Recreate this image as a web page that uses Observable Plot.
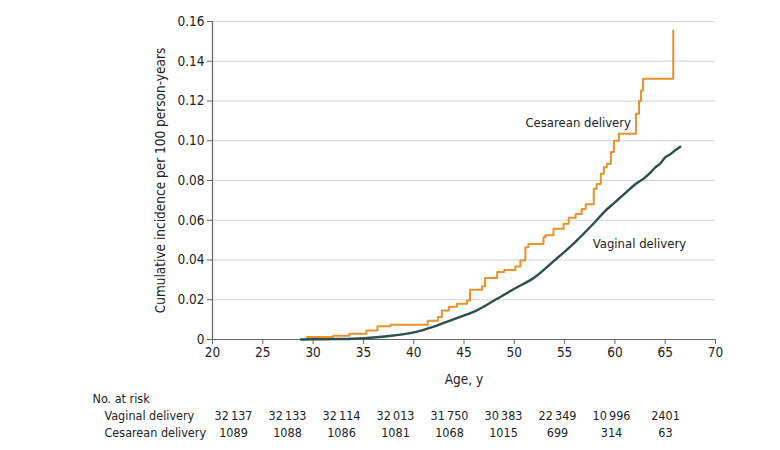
<!DOCTYPE html>
<html>
<head>
<meta charset="utf-8">
<script src="https://cdn.jsdelivr.net/npm/d3@7"></script>
<script src="https://cdn.jsdelivr.net/npm/@observablehq/plot@0.6"></script>
<style>
  html, body { margin: 0; padding: 0; background: #fff; }
  #chart svg { display: block; }
</style>
</head>
<body>
<div id="chart"></div>
<script>
const FONT = "'DejaVu Sans Condensed', 'Liberation Sans', sans-serif";

// Cumulative incidence, cesarean delivery (step function)
const cesAge = [29.4, 32.0, 33.6, 35.3, 36.4, 37.7, 41.4, 42.4, 42.8, 43.5, 44.3, 45.3, 45.6, 46.8, 47.1, 48.3, 49.0, 50.1, 50.6, 51.1, 51.4, 52.9, 53.1, 53.9, 54.9, 55.4, 56.1, 56.7, 57.1, 57.9, 58.2, 58.6, 58.9, 59.2, 59.6, 59.9, 60.4, 62.1, 62.4, 62.6, 62.8, 65.8];
const cesVal = [0.0012, 0.0019, 0.0029, 0.0045, 0.0067, 0.0074, 0.0094, 0.0113, 0.0146, 0.0165, 0.0180, 0.0196, 0.0250, 0.0268, 0.0310, 0.0339, 0.0350, 0.0367, 0.0397, 0.0464, 0.0481, 0.0515, 0.0525, 0.0557, 0.0582, 0.0612, 0.0632, 0.0657, 0.0680, 0.0758, 0.0783, 0.0834, 0.0867, 0.0884, 0.0943, 0.1000, 0.1035, 0.1136, 0.1200, 0.1253, 0.1312, 0.1555];

// Cumulative incidence, vaginal delivery
const vagAge = [28.8, 30, 32, 34, 36, 38, 40, 42, 44, 46, 48, 50, 52, 54, 56, 58, 59, 60, 61, 62, 63, 63.5, 64, 64.5, 65, 65.5, 66, 66.5];
const vagVal = [0, 0.0001, 0.0002, 0.0004, 0.0010, 0.0020, 0.0036, 0.0065, 0.0103, 0.0140, 0.0196, 0.0255, 0.0312, 0.0398, 0.0488, 0.0590, 0.0645, 0.0690, 0.0735, 0.0780, 0.0815, 0.0838, 0.0865, 0.0885, 0.0916, 0.0932, 0.0952, 0.0970];

const xTicks = [20, 25, 30, 35, 40, 45, 50, 55, 60, 65, 70];
const yTicks = [0, 0.02, 0.04, 0.06, 0.08, 0.10, 0.12, 0.14, 0.16];

const seriesNames = ["Vaginal delivery", "Cesarean delivery"];
const seriesColors = ["#2b4f4c", "#e8922e"];

// Curve labels
const labelText = ["Cesarean delivery", "Vaginal delivery"];
const labelAge = [61.6, 57.8];
const labelVal = [0.109, 0.048];
const labelAnchor = ["end", "start"];

// Number at risk
const riskCols = [30, 35, 40, 45, 50, 55, 60, 65, 70];
const riskVaginal = ["32\u2009137", "32\u2009133", "32\u2009114", "32\u2009013", "31\u2009750", "30\u2009383", "22\u2009349", "10\u2009996", "2401"];
const riskCesarean = ["1089", "1088", "1086", "1081", "1068", "1015", "699", "314", "63"];

const ces = cesAge.map((a, i) => ({age: a, v: cesVal[i]}));
const vag = vagAge.map((a, i) => ({age: a, v: vagVal[i]}));
const labels = labelText.map((t, i) => ({t, age: labelAge[i], v: labelVal[i], anchor: labelAnchor[i]}));

const main = Plot.plot({
  width: 780,
  height: 390,
  marginTop: 21,
  marginLeft: 212,
  marginRight: 65,
  marginBottom: 51,
  style: {fontFamily: FONT, fontSize: "13px", color: "#222", background: "#fff"},
  x: {domain: [20, 70]},
  y: {domain: [0, 0.16]},
  marks: [
    Plot.gridY(yTicks.filter(d => d > 0), {stroke: "#d4d4d4", strokeOpacity: 1, strokeWidth: 1.2}),
    Plot.axisY(yTicks, {
      tickSize: 5, tickPadding: 3, stroke: "#666",
      tickFormat: d => d === 0 ? "0" : d.toFixed(2),
      label: "Cumulative incidence per 100 person-years",
      labelAnchor: "center", labelArrow: "none", labelOffset: 57,
      fontSize: 13.5
    }),
    Plot.axisX(xTicks, {
      tickSize: 5, tickPadding: 3, stroke: "#666",
      label: "Age, y", labelAnchor: "center", labelArrow: "none", labelOffset: 44,
      fontSize: 13.5
    }),
    Plot.ruleY([0], {stroke: "#666", strokeWidth: 1.2}),
    Plot.ruleX([20], {stroke: "#666", strokeWidth: 1.2}),
    Plot.line(vag, {x: "age", y: "v", curve: "monotone-x", stroke: seriesColors[0], strokeWidth: 2.4}),
    Plot.line(ces, {x: "age", y: "v", curve: "step-after", stroke: seriesColors[1], strokeWidth: 2}),
    Plot.text(labels.filter(d => d.anchor === "end"), {x: "age", y: "v", text: "t", textAnchor: "end", fontSize: 13, fill: "#222"}),
    Plot.text(labels.filter(d => d.anchor === "start"), {x: "age", y: "v", text: "t", textAnchor: "start", fontSize: 13, fill: "#222"})
  ]
});

// risk table
const rows = ["No. at risk", ...seriesNames];
const cells = [];
riskCols.forEach((c, i) => {
  cells.push({col: c, row: seriesNames[0], t: riskVaginal[i]});
  cells.push({col: c, row: seriesNames[1], t: riskCesarean[i]});
});

const table = Plot.plot({
  width: 780,
  height: 60,
  margin: 0,
  style: {fontFamily: FONT, fontSize: "13px", color: "#222", background: "#fff"},
  x: {type: "point", domain: riskCols, range: [231, 666], padding: 0, axis: null},
  y: {type: "point", domain: rows, range: [8, 42], padding: 0, axis: null},
  marks: [
    Plot.text(["No. at risk"], {y: d => d, text: d => d, frameAnchor: "left", dx: 92, textAnchor: "start", fontSize: 12.5, fill: "#222"}),
    Plot.text(seriesNames, {y: d => d, text: d => d, frameAnchor: "left", dx: 104, textAnchor: "start", fontSize: 12.5, fill: "#222"}),
    Plot.text(cells, {x: "col", y: "row", text: "t", textAnchor: "middle", fontSize: 12.5, fill: "#222"})
  ]
});

document.getElementById("chart").append(main, table);
</script>
</body>
</html>
